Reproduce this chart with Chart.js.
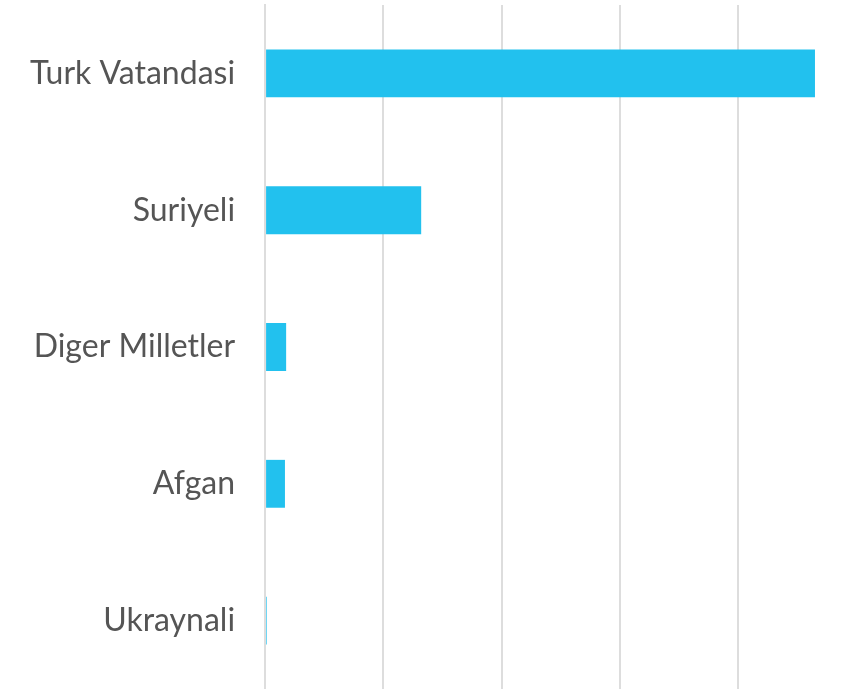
<!DOCTYPE html>
<html>
<head>
<meta charset="utf-8">
<script src="https://cdn.jsdelivr.net/npm/chart.js@4"></script>
<style>
  html, body { margin: 0; padding: 0; background: #fff; }
  #wrap { width: 854px; height: 689px; position: relative; }
</style>
</head>
<body>
<div id="wrap"><canvas id="natChart"></canvas></div>
<script>
const categories = ["Turk Vatandasi", "Suriyeli", "Diger Milletler", "Afgan", "Ukraynali"];
const counts = [4650, 1320, 178, 168, 14];
const gridSteps = [0, 1000, 2000, 3000, 4000];

const ctx = document.getElementById("natChart").getContext("2d");

new Chart(ctx, {
  type: "bar",
  data: {
    labels: categories,
    datasets: [
      {
        data: counts,
        backgroundColor: "#22c1ee",
        barPercentage: 0.35,
        categoryPercentage: 1.0,
      },
    ],
  },
  options: {
    indexAxis: "y",
    responsive: true,
    maintainAspectRatio: false,
    animation: false,
    layout: { padding: { top: 5, right: 0, bottom: 0, left: 8 } },
    plugins: {
      legend: { display: false },
      tooltip: { enabled: false },
    },
    scales: {
      x: {
        min: 0,
        max: 4980,
        ticks: { display: false },
        // fixed grid steps, no line at the max edge
        afterBuildTicks: (scale) => {
          scale.ticks = gridSteps.map((v) => ({ value: v }));
        },
        grid: { color: "#dddddd", lineWidth: 2, drawTicks: false },
        border: { display: false },
      },
      y: {
        grid: { display: false },
        border: { display: true, color: "#dddddd", width: 2 },
        ticks: {
          color: "#555555",
          padding: 22,
          font: { family: "Lato", size: 32 },
        },
        afterFit: (scale) => {
          scale.paddingTop = 0;
          scale.paddingBottom = 0;
        },
      },
    },
  },
});
</script>
</body>
</html>
